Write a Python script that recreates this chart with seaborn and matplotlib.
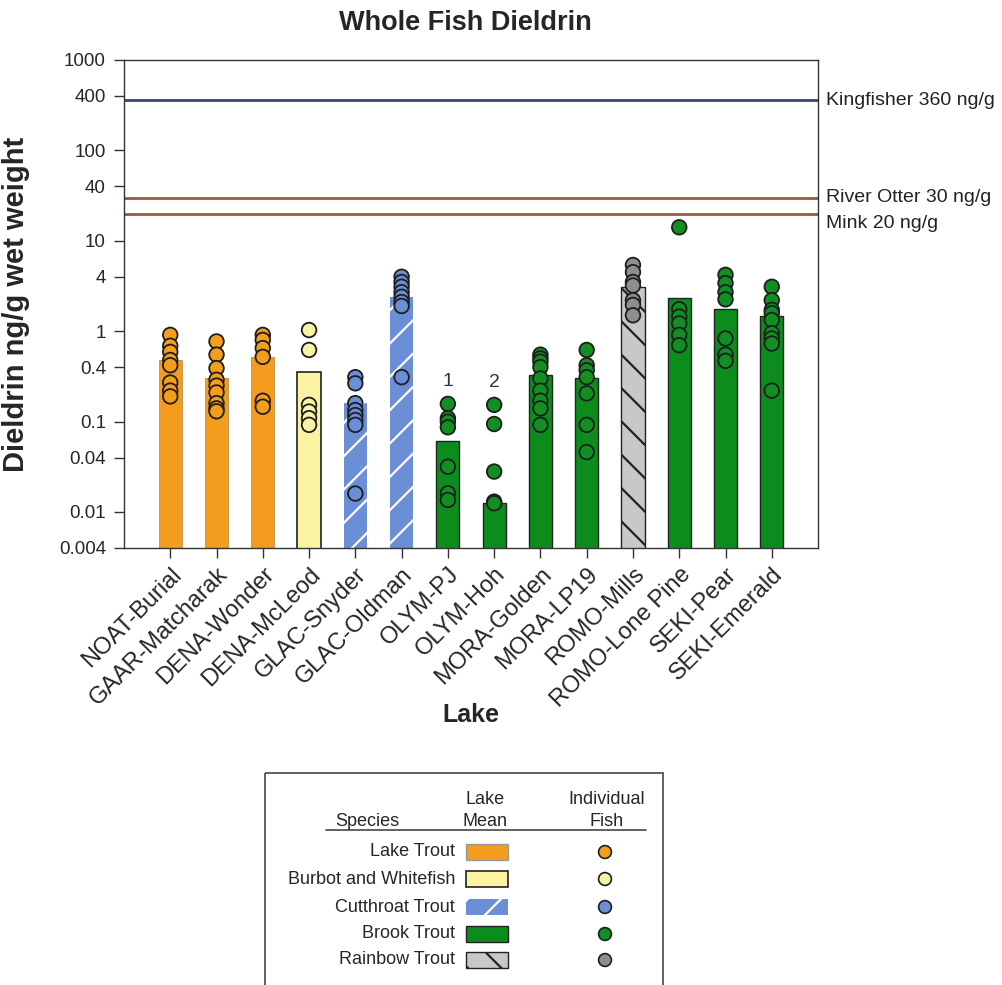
import seaborn as sns
import matplotlib.pyplot as plt
import matplotlib.ticker as mticker
from matplotlib.patches import Rectangle
import pandas as pd

# lakes and the species caught in each
lakes = ['NOAT-Burial', 'GAAR-Matcharak', 'DENA-Wonder', 'DENA-McLeod', 'GLAC-Snyder',
         'GLAC-Oldman', 'OLYM-PJ', 'OLYM-Hoh', 'MORA-Golden', 'MORA-LP19', 'ROMO-Mills',
         'ROMO-Lone Pine', 'SEKI-Pear', 'SEKI-Emerald']
lake_species = ['Lake Trout', 'Lake Trout', 'Lake Trout', 'Burbot and Whitefish',
                'Cutthroat Trout', 'Cutthroat Trout', 'Brook Trout', 'Brook Trout',
                'Brook Trout', 'Brook Trout', 'Rainbow Trout', 'Brook Trout',
                'Brook Trout', 'Brook Trout']
lake_mean = [0.48, 0.30, 0.52, 0.35, 0.16, 2.4, 0.0615, 0.0127, 0.325, 0.306, 3.05, 2.35, 1.77, 1.47]

# individual fish, ng/g wet weight
noat_burial = [0.91, 0.69, 0.59, 0.48, 0.42, 0.27, 0.22, 0.19]
gaar_matcharak = [0.77, 0.55, 0.39, 0.29, 0.25, 0.21, 0.16, 0.14, 0.13]
dena_wonder = [0.91, 0.80, 0.65, 0.52, 0.17, 0.146]
dena_mcleod = [1.03, 0.62, 0.153, 0.129, 0.109, 0.092]
glac_snyder = [0.31, 0.265, 0.16, 0.134, 0.118, 0.104, 0.092, 0.016]
glac_oldman = [4.0, 3.5, 3.1, 2.7, 2.4, 2.1, 1.9, 0.31]
olym_pj = [0.157, 0.109, 0.0998, 0.0865, 0.0317, 0.0161, 0.0136]
olym_hoh = [0.153, 0.094, 0.028, 0.013, 0.0125]
mora_golden = [0.55, 0.50, 0.46, 0.40, 0.30, 0.22, 0.17, 0.14, 0.092]
mora_lp19 = [0.62, 0.42, 0.37, 0.31, 0.205, 0.092, 0.046]
romo_mills = [5.4, 4.5, 3.5, 3.2, 2.2, 1.95, 1.5]
romo_lone_pine = [14.1, 1.75, 1.45, 1.22, 0.91, 0.70]
seki_pear = [4.2, 3.4, 2.7, 2.25, 0.83, 0.55, 0.47]
seki_emerald = [3.1, 2.2, 1.72, 1.58, 1.33, 0.95, 0.83, 0.73, 0.22]
fish = [noat_burial, gaar_matcharak, dena_wonder, dena_mcleod, glac_snyder, glac_oldman,
        olym_pj, olym_hoh, mora_golden, mora_lp19, romo_mills, romo_lone_pine,
        seki_pear, seki_emerald]

# wildlife guideline values
guide_names = ['Kingfisher 360 ng/g', 'River Otter 30 ng/g', 'Mink 20 ng/g']
guide_values = [360, 30, 20]

footnote_lakes = ['OLYM-PJ', 'OLYM-Hoh']
footnote_marks = ['1', '2']

y_ticks = [1000, 400, 100, 40, 10, 4, 1, 0.4, 0.1, 0.04, 0.01, 0.004]
y_ticklabels = ['1000', '400', '100', '40', '10', '4', '1', '0.4', '0.1', '0.04', '0.01', '0.004']

species_names = ['Lake Trout', 'Burbot and Whitefish', 'Cutthroat Trout', 'Brook Trout', 'Rainbow Trout']

# styles
bar_color = {'Lake Trout': '#f39c1e', 'Burbot and Whitefish': '#fbf3a2',
             'Cutthroat Trout': '#6a8fd6', 'Brook Trout': '#0d8c1e', 'Rainbow Trout': '#c8c8c8'}
point_color = {'Lake Trout': '#f59e1c', 'Burbot and Whitefish': '#f7f4a6',
               'Cutthroat Trout': '#6a8fd6', 'Brook Trout': '#118f22', 'Rainbow Trout': '#8e8e8e'}
bar_edge = {'Lake Trout': '#c09050', 'Burbot and Whitefish': '#222222',
            'Cutthroat Trout': 'white', 'Brook Trout': '#222222', 'Rainbow Trout': '#222222'}
bar_lw = {'Lake Trout': 0.6, 'Burbot and Whitefish': 1.2, 'Cutthroat Trout': 0,
          'Brook Trout': 1.0, 'Rainbow Trout': 1.0}
bar_hatch = {'Lake Trout': None, 'Burbot and Whitefish': None, 'Cutthroat Trout': '/',
             'Brook Trout': None, 'Rainbow Trout': '\\'}
guide_colors = ['#3c4470', '#9b5b3b', '#9b5b3b']
guide_offsets = [0, 0, -10]

sns.set_theme(style='ticks')
plt.rcParams['font.family'] = ['Liberation Sans', 'DejaVu Sans']
plt.rcParams['hatch.linewidth'] = 1.6

fish_df = pd.DataFrame({
    'lake': [l for l, v in zip(lakes, fish) for _ in v],
    'species': [s for s, v in zip(lake_species, fish) for _ in v],
    'value': [x for v in fish for x in v],
})

fig = plt.figure(figsize=(10.03, 9.85), dpi=100)
ax = fig.add_axes([0.1236, 0.4437, 0.6920, 0.4954])
ax.set_yscale('log')

sns.barplot(x=lakes, y=lake_mean, hue=lakes, palette=[bar_color[s] for s in lake_species],
            width=0.5, dodge=False, saturation=1, legend=False, ax=ax, zorder=2)
for p in ax.patches:
    i = int(round(p.get_x() + p.get_width() / 2))
    sp = lake_species[i]
    p.set_edgecolor(bar_edge[sp])
    p.set_linewidth(bar_lw[sp])
    if bar_hatch[sp]:
        p.set_hatch(bar_hatch[sp])

sns.stripplot(data=fish_df, x='lake', y='value', hue='species', order=lakes,
              palette=point_color, jitter=False, size=10.5, linewidth=1.3,
              edgecolor='#1e1e1e', legend=False, ax=ax, zorder=3)

for name, val, col, off in zip(guide_names, guide_values, guide_colors, guide_offsets):
    ax.axhline(val, color=col, lw=2.0, zorder=1)
    ax.annotate(name, xy=(1.0115, val), xycoords=('axes fraction', 'data'),
                xytext=(0, off), textcoords='offset pixels', va='center', ha='left',
                fontsize=14, color='#222222', annotation_clip=False)

for lk, mk in zip(footnote_lakes, footnote_marks):
    ax.annotate(mk, xy=(lakes.index(lk), max(fish[lakes.index(lk)])), xytext=(0, 22),
                textcoords='offset pixels', ha='center', va='center', fontsize=14, color='#333333')

ax.set_ylim(0.004, 1000)
ax.set_xlim(-1, 14)
ax.yaxis.set_major_locator(mticker.FixedLocator(y_ticks))
ax.yaxis.set_minor_locator(mticker.NullLocator())
ax.set_yticklabels(y_ticklabels, fontsize=13.5)
ax.set_xticks(range(len(lakes)))
ax.set_xticklabels(lakes, rotation=45, ha='right', rotation_mode='anchor', fontsize=17)
ax.tick_params(axis='both', direction='out', length=7, width=1, color='#333333')
ax.tick_params(axis='y', pad=6)
ax.tick_params(axis='x', pad=4)
for s in ax.spines.values():
    s.set_color('#333333')
    s.set_linewidth(1.0)

ax.set_xlabel('Lake', fontsize=18, fontweight='bold')
ax.xaxis.set_label_coords(0.5, -0.342)
ax.xaxis.label.set_va('center')
ax.set_ylabel('Dieldrin ng/g wet weight', fontsize=21, fontweight='bold')
ax.yaxis.set_label_coords(-0.135, 0.5)
fig.text(0.4636, 0.977, 'Whole Fish Dieldrin', ha='center', va='center', fontsize=19.5, fontweight='bold')

# legend table, drawn in figure pixel coordinates
lax = fig.add_axes([0, 0, 1, 1])
lax.set_xlim(0, 1003)
lax.set_ylim(985, 0)
lax.axis('off')
lax.add_patch(Rectangle((265, 773), 398, 300, fill=False, edgecolor='#555555', lw=1.3))
lax.plot([326, 646], [830, 830], color='#555555', lw=1.3)
lax.text(367, 822, 'Species', ha='center', va='center', fontsize=13)
lax.text(485, 799, 'Lake', ha='center', va='center', fontsize=13)
lax.text(485, 821, 'Mean', ha='center', va='center', fontsize=13)
lax.text(607, 799, 'Individual', ha='center', va='center', fontsize=13)
lax.text(607, 821, 'Fish', ha='center', va='center', fontsize=13)
row_y = [852, 879, 907, 934, 960]
for sp, y in zip(species_names, row_y):
    lax.text(455, y, sp, ha='right', va='center', fontsize=13)
    lax.add_patch(Rectangle((466, y - 8), 42, 16, facecolor=bar_color[sp],
                            edgecolor=bar_edge[sp] if sp != 'Lake Trout' else '#999999',
                            lw=max(bar_lw[sp], 1.0) if sp != 'Cutthroat Trout' else 0,
                            hatch=bar_hatch[sp]))
sns.scatterplot(x=[605] * len(row_y), y=row_y, hue=species_names, palette=point_color,
                s=85, edgecolor='#1e1e1e', linewidth=1.2, legend=False, ax=lax)
lax.set_xlim(0, 1003)
lax.set_ylim(985, 0)
lax.axis('off')

fig.savefig('out.png', dpi=100)
